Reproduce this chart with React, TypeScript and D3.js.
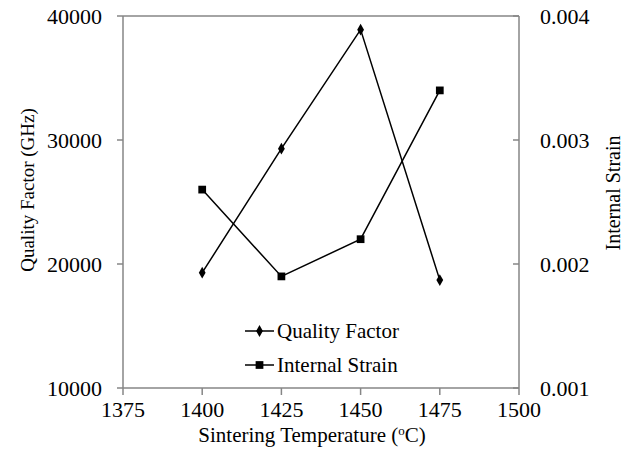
import React from "react";
import * as d3 from "d3";

const width = 632;
const height = 457;
const margin = { top: 16, right: 113, bottom: 69, left: 123 };

const temperatures = [1400, 1425, 1450, 1475];
const qualityFactor = [19300, 29300, 38900, 18700];
const internalStrain = [0.0026, 0.0019, 0.0022, 0.0034];

const xTicks = [1375, 1400, 1425, 1450, 1475, 1500];
const leftTicks = [10000, 20000, 30000, 40000];
const rightTicks = [0.001, 0.002, 0.003, 0.004];

const axisColor = "#868686";
const font = "'Liberation Serif', 'Times New Roman', serif";

const App = () => {
  const x = d3
    .scaleLinear()
    .domain([1375, 1500])
    .range([margin.left, width - margin.right]);
  const yLeft = d3
    .scaleLinear()
    .domain([10000, 40000])
    .range([height - margin.bottom, margin.top]);
  const yRight = d3
    .scaleLinear()
    .domain([0.001, 0.004])
    .range([height - margin.bottom, margin.top]);

  const qfLine = d3
    .line<number>()
    .x((d, i) => x(temperatures[i]))
    .y(d => yLeft(d));
  const strainLine = d3
    .line<number>()
    .x((d, i) => x(temperatures[i]))
    .y(d => yRight(d));

  const x0 = x.range()[0];
  const x1 = x.range()[1];
  const yBottom = yLeft.range()[0];
  const yTop = yLeft.range()[1];

  const diamond = d3.symbol().type(d3.symbolDiamond).size(40)();
  const square = d3.symbol().type(d3.symbolSquare).size(60)();

  return (
    <svg
      width={width}
      height={height}
      style={{ position: "absolute", left: 0, top: 0, background: "#fff" }}
      fontFamily={font}
    >
      {/* frame */}
      <line x1={x0} x2={x1} y1={yTop} y2={yTop} stroke={axisColor} strokeWidth={1.5} />
      <line x1={x0} x2={x0} y1={yTop} y2={yBottom} stroke={axisColor} strokeWidth={1.5} />
      <line x1={x1} x2={x1} y1={yTop} y2={yBottom} stroke={axisColor} strokeWidth={1.5} />
      <line x1={x0} x2={x1} y1={yBottom} y2={yBottom} stroke={axisColor} strokeWidth={1.5} />

      {/* x ticks */}
      {xTicks.map(t => (
        <g key={t}>
          <line x1={x(t)} x2={x(t)} y1={yBottom} y2={yBottom + 7} stroke={axisColor} strokeWidth={1.5} />
          <text x={x(t)} y={yBottom + 29} textAnchor="middle" fontSize={22}>
            {t}
          </text>
        </g>
      ))}

      {/* left ticks */}
      {leftTicks.map(t => (
        <g key={t}>
          <line x1={x0 - 6} x2={x0} y1={yLeft(t)} y2={yLeft(t)} stroke={axisColor} strokeWidth={1.5} />
          <text x={x0 - 21} y={yLeft(t)} dy="0.35em" textAnchor="end" fontSize={22}>
            {t}
          </text>
        </g>
      ))}

      {/* right ticks */}
      {rightTicks.map(t => (
        <g key={t}>
          <line x1={x1 - 6} x2={x1} y1={yRight(t)} y2={yRight(t)} stroke={axisColor} strokeWidth={1.5} />
          <text x={x1 + 21} y={yRight(t)} dy="0.35em" textAnchor="start" fontSize={22}>
            {d3.format(".3f")(t)}
          </text>
        </g>
      ))}

      {/* series */}
      <path d={qfLine(qualityFactor) || ""} fill="none" stroke="#000" strokeWidth={1.5} />
      <path d={strainLine(internalStrain) || ""} fill="none" stroke="#000" strokeWidth={1.5} />
      {qualityFactor.map((v, i) => (
        <path key={"q" + i} d={diamond || ""} transform={`translate(${x(temperatures[i])},${yLeft(v)})`} fill="#000" />
      ))}
      {internalStrain.map((v, i) => (
        <path key={"s" + i} d={square || ""} transform={`translate(${x(temperatures[i])},${yRight(v)})`} fill="#000" />
      ))}

      {/* legend */}
      <g transform="translate(245,331)">
        <line x1={0} x2={29} y1={0} y2={0} stroke="#000" strokeWidth={1.5} />
        <path d={diamond || ""} transform="translate(14.5,0)" fill="#000" />
        <text x={32} y={0} dy="0.35em" fontSize={21}>
          Quality Factor
        </text>
      </g>
      <g transform="translate(245,365)">
        <line x1={0} x2={29} y1={0} y2={0} stroke="#000" strokeWidth={1.5} />
        <path d={square || ""} transform="translate(14.5,0)" fill="#000" />
        <text x={32} y={0} dy="0.35em" fontSize={21}>
          Internal Strain
        </text>
      </g>

      {/* axis titles */}
      <text transform="translate(34,190) rotate(-90)" textAnchor="middle" fontSize={19}>
        Quality Factor (GHz)
      </text>
      <text transform="translate(620,193) rotate(-90)" textAnchor="middle" fontSize={20}>
        Internal Strain
      </text>
      <text x={312} y={442} textAnchor="middle" fontSize={21}>
        Sintering Temperature (
        <tspan dy={-7} fontSize={13}>o</tspan>
        <tspan dy={7}>C)</tspan>
      </text>
    </svg>
  );
};

export default App;
